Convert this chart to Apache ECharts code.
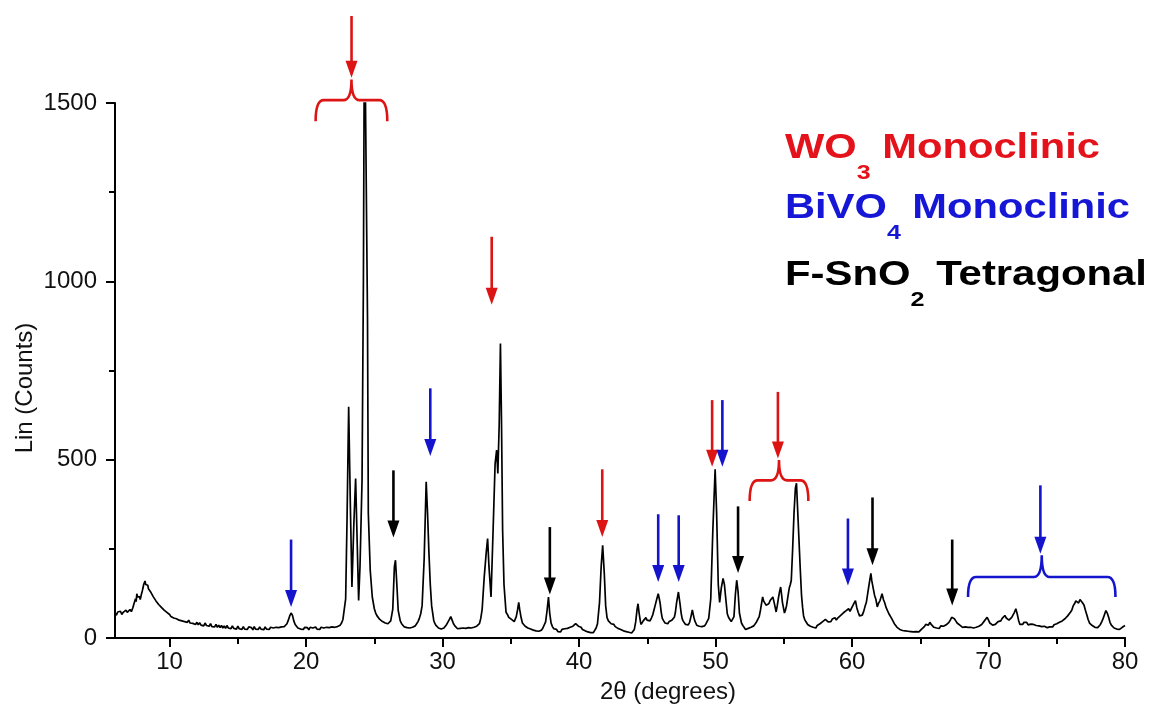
<!DOCTYPE html>
<html><head><meta charset="utf-8">
<script src="https://cdn.jsdelivr.net/npm/echarts@6/dist/echarts.min.js"></script>
<style>html,body{margin:0;padding:0;background:#fff}#chart{width:1155px;height:718px}</style>
</head><body><div id="chart"></div>
<script>
// ---- data ----
const xrdPattern = [
[6.0,70],[6.1,64],[6.2,73],[6.3,68],[6.4,75],[6.5,66],[6.6,72],[6.7,70],[6.8,78],[6.9,72],[7.0,76],[7.1,80],[7.2,74],[7.3,84],[7.4,88],[7.5,110],[7.55,102],[7.6,124],[7.65,115],[7.7,112],[7.75,120],[7.8,116],[7.85,108],[7.9,112],[7.95,125],[8.0,132],[8.05,140],[8.1,150],[8.15,155],[8.2,160],[8.25,150],[8.3,154],[8.35,146],[8.4,148],[8.45,138],[8.5,142],[8.6,130],[8.7,128],[8.8,116],[8.9,112],[9.0,104],[9.1,106],[9.2,94],[9.3,96],[9.4,86],[9.5,88],[9.6,78],[9.7,82],[9.8,72],[9.9,74],
[10.0,66],[10.1,60],[10.2,64],[10.3,56],[10.4,60],[10.5,54],[10.6,58],[10.7,50],[10.8,55],[10.9,48],[11.0,52],[11.1,46],[11.2,50],[11.3,44],[11.4,50],[11.5,42],[11.6,47],[11.7,41],[11.8,46],[11.9,38],[12.0,44],[12.1,37],[12.2,43],[12.3,36],[12.4,41],[12.5,34],[12.6,42],[12.7,35],[12.8,39],[12.9,33],[13.0,40],[13.1,32],[13.2,37],[13.3,31],[13.4,38],[13.5,30],[13.6,36],[13.7,29],[13.8,35],[13.9,28],[14.0,34],[14.1,27],[14.2,35],[14.3,28],[14.4,32],[14.5,26],[14.6,34],[14.7,27],[14.8,31],[14.9,25],[15.0,33],[15.1,26],[15.2,30],[15.3,24],[15.4,32],[15.5,25],[15.6,30],[15.7,24],[15.8,31],[15.9,26],[16.0,29],[16.1,23],[16.2,32],[16.3,25],[16.4,29],[16.5,24],[16.6,31],[16.7,25],[16.8,28],[16.9,23],[17.0,31],[17.1,25],[17.2,29],[17.3,24],[17.4,30],[17.5,25],[17.6,28],[17.7,23],[17.8,30],[17.9,26],[18.0,29],[18.1,24],[18.2,31],[18.3,27],[18.4,32],[18.5,30],[18.6,40],[18.7,50],[18.8,62],[18.9,70],[19.0,64],[19.1,48],[19.2,38],[19.3,33],[19.4,28],[19.5,31],[19.6,25],[19.7,29],[19.8,24],[19.9,30],[20.0,25],[20.1,29],[20.2,23],[20.3,30],[20.4,25],[20.5,28],[20.6,24],[20.7,31],[20.8,25],[20.9,29],[21.0,24],[21.1,30],[21.2,25],[21.3,28],[21.4,24],[21.5,30],[21.6,26],[21.7,29],[21.8,25],[21.9,31],[22.0,26],[22.1,30],[22.2,27],[22.3,32],[22.4,30],[22.5,36],[22.6,42],[22.7,52],
[22.9,110],[23.0,330],[23.12,648],[23.25,360],[23.36,143],[23.5,320],[23.63,447],[23.75,260],[23.85,105],[23.95,200],[24.1,442],[24.2,1000],[24.28,1800],[24.42,1800],[24.5,900],[24.56,350],[24.7,190],[24.85,115],
[25.0,82],[25.1,70],[25.2,62],[25.3,58],[25.4,52],[25.5,54],[25.6,46],[25.7,48],[25.8,42],[25.9,45],[26.0,40],[26.1,44],[26.2,48],[26.35,80],[26.47,200],[26.55,218],[26.65,150],[26.75,77],[26.9,48],[27.0,40],[27.1,36],[27.2,31],[27.3,34],[27.4,29],[27.5,34],[27.6,28],[27.7,33],[27.8,30],[27.9,35],[28.0,34],[28.1,40],[28.2,46],[28.3,55],[28.4,68],[28.5,90],[28.65,220],[28.8,438],[28.9,350],[29.0,240],[29.1,150],[29.2,90],[29.35,50],[29.4,44],[29.5,36],[29.6,33],[29.7,28],[29.8,31],[29.9,25],[30.0,30],[30.1,28],[30.2,33],[30.3,38],[30.4,45],[30.5,52],[30.6,60],[30.7,50],[30.8,40],[30.9,34],[31.0,29],[31.1,26],[31.2,22],[31.3,27],[31.4,22],[31.5,28],[31.6,23],[31.7,27],[31.8,22],[31.9,29],[32.0,24],[32.1,28],[32.2,25],[32.3,30],[32.4,28],[32.5,33],[32.6,35],[32.7,40],[32.8,55],[32.9,80],
[33.05,170],[33.2,240],[33.3,279],[33.4,200],[33.55,115],[33.7,300],[33.85,489],[33.96,527],[34.05,461],[34.15,600],[34.24,826],[34.32,600],[34.4,302],[34.5,150],[34.65,72],[34.75,66],[34.85,58],[34.95,62],[35.05,52],[35.15,48],[35.25,46],[35.4,60],[35.5,80],[35.58,100],[35.65,80],[35.75,58],[35.85,42],[35.95,38],[36.05,33],[36.15,35],[36.25,28],[36.35,31],[36.45,25],[36.55,28],[36.65,22],[36.75,26],[36.85,20],[36.95,24],[37.05,19],[37.15,24],[37.25,22],[37.35,28],[37.45,32],[37.55,45],[37.65,75],[37.76,115],[37.85,70],[37.95,42],[38.05,32],[38.15,26],[38.25,22],[38.35,24],[38.45,18],[38.55,22],[38.65,17],[38.75,24],[38.85,20],[38.95,26],[39.05,21],[39.15,27],[39.25,24],[39.35,30],[39.45,27],[39.55,33],[39.65,31],[39.75,40],[39.85,36],[39.95,33],[40.05,29],[40.15,30],[40.25,24],[40.35,26],[40.45,20],[40.55,22],[40.65,17],[40.75,20],[40.85,15],[40.95,18],[41.05,15],[41.15,20],[41.25,28],[41.35,40],[41.5,100],[41.62,200],[41.73,260],[41.85,180],[41.95,90],[42.05,57],[42.15,48],[42.25,44],[42.35,40],[42.45,36],[42.55,38],[42.65,32],[42.75,34],[42.85,27],[42.95,30],[43.05,24],[43.15,26],[43.25,20],[43.35,23],[43.45,18],[43.55,21],[43.65,16],[43.75,19],[43.85,14],[43.95,18],[44.05,24],[44.15,45],[44.25,80],[44.32,96],[44.4,70],
[44.5,45],[44.55,38],[44.6,40],[44.7,48],[44.75,52],[44.82,48],[44.9,57],[44.98,50],[45.05,45],[45.12,50],[45.2,48],[45.3,56],[45.4,65],[45.5,80],[45.6,95],[45.7,110],[45.8,124],[45.88,110],[45.95,95],[46.02,72],[46.1,55],[46.2,48],[46.3,42],[46.4,45],[46.5,40],[46.6,46],[46.7,43],[46.8,50],[46.9,48],[46.98,58],[47.05,70],[47.15,100],[47.28,129],[47.4,95],[47.48,70],[47.55,55],[47.62,48],[47.7,44],[47.8,38],[47.9,40],[48.0,37],[48.1,44],[48.2,60],[48.3,79],[48.4,60],[48.48,48],[48.55,42],[48.62,36],[48.7,38],[48.8,33],[48.9,36],[49.0,32],[49.1,37],[49.2,34],[49.3,40],[49.4,44],[49.5,55],[49.65,110],[49.8,300],[49.97,473],[50.08,350],[50.2,150],[50.3,100],[50.42,140],[50.55,167],[50.65,150],[50.75,110],[50.86,68],[50.95,58],[51.05,52],[51.15,46],[51.25,48],[51.35,60],[51.45,120],[51.55,162],[51.65,130],[51.75,70],[51.9,42],[52.0,35],[52.1,30],[52.2,24],[52.3,22],[52.4,27],[52.5,24],[52.6,30],[52.7,28],[52.8,34],[52.9,38],[53.0,45],[53.1,49],[53.2,60],[53.3,80],[53.45,115],[53.52,104],[53.6,100],[53.7,92],[53.8,87],[53.9,96],[54.0,105],[54.1,100],[54.2,115],[54.32,95],[54.44,73],[54.52,90],[54.6,110],[54.68,128],[54.77,143],[54.85,118],[54.9,100],[55.05,70],[55.12,78],[55.2,90],[55.3,115],[55.4,140],[55.48,150],[55.55,162],[55.65,250],[55.75,350],[55.85,420],[55.93,434],[56.05,330],[56.2,199],[56.3,120],[56.38,85],
[56.45,62],[56.55,50],[56.65,44],[56.75,38],[56.85,40],[56.95,33],[57.05,36],[57.15,30],[57.25,33],[57.35,28],[57.45,35],[57.55,33],[57.65,40],[57.75,38],[57.85,46],[57.95,44],[58.05,52],[58.15,47],[58.25,45],[58.35,50],[58.45,46],[58.55,53],[58.65,50],[58.75,57],[58.85,50],[58.95,56],[59.05,58],[59.15,63],[59.25,60],[59.35,70],[59.45,68],[59.55,76],[59.65,72],[59.75,82],[59.85,75],[59.95,80],[60.05,90],[60.15,98],[60.25,105],[60.35,85],[60.45,72],[60.55,62],[60.65,66],[60.75,64],[60.85,74],[60.95,88],[61.05,100],[61.15,125],[61.25,150],[61.38,181],[61.45,160],[61.55,140],[61.65,120],[61.75,108],[61.85,87],[61.95,98],[62.05,105],[62.15,118],[62.2,124],[62.3,108],[62.4,98],[62.5,85],[62.6,80],[62.7,68],[62.8,64],[62.9,55],[63.0,50],[63.1,40],[63.2,36],[63.3,30],[63.4,28],[63.5,24],[63.6,26],[63.7,21],[63.8,25],[63.9,20],[64.0,24],[64.1,19],[64.2,23],[64.3,18],[64.4,22],[64.5,17],[64.6,22],[64.7,18],[64.8,21],[64.9,17],[65.0,22],[65.1,25],[65.2,30],[65.3,32],[65.4,38],[65.5,40],[65.6,36],[65.7,44],[65.8,38],[65.9,36],[66.0,30],[66.1,33],[66.2,28],[66.3,30],[66.4,27],[66.5,34],[66.6,30],[66.7,33],[66.8,31],[66.9,37],[67.0,40],[67.1,44],[67.2,50],[67.3,58],[67.4,63],[67.5,54],[67.6,48],[67.7,42],[67.8,38],[67.9,36],[68.0,33],[68.1,30],[68.2,34],[68.3,31],[68.4,27],[68.5,30],[68.6,25],[68.7,30],[68.8,26],[68.9,28],[69.0,25],[69.1,30],[69.2,28],[69.3,33],[69.4,34],[69.5,38],[69.6,42],[69.7,48],[69.8,50],[69.9,58],[70.0,50],[70.1,42],[70.2,38],[70.3,36],[70.4,35],[70.5,38],[70.6,40],[70.7,46],[70.8,50],[70.9,48],[71.0,55],[71.1,58],[71.2,63],[71.3,56],[71.4,55],[71.5,50],[71.6,52],[71.7,58],[71.8,65],[71.9,72],[72.0,82],[72.1,68],[72.2,50],[72.3,38],[72.4,42],[72.5,38],[72.6,44],[72.7,40],[72.8,44],[72.9,37],[73.0,42],[73.1,39],[73.2,43],[73.3,38],[73.4,40],[73.5,35],[73.6,39],[73.7,34],[73.8,37],[73.9,32],[74.0,36],[74.1,33],[74.2,35],[74.3,29],[74.4,34],[74.5,31],[74.6,35],[74.7,31],[74.8,37],[74.9,35],[75.0,40],[75.1,38],[75.2,44],[75.3,42],[75.4,48],[75.5,46],[75.6,54],[75.7,56],[75.8,62],[75.9,64],[76.0,72],[76.1,78],[76.2,90],[76.3,96],[76.4,104],[76.45,100],[76.5,106],[76.6,98],[76.7,108],[76.75,104],[76.8,110],[76.9,98],[77.0,92],[77.05,85],[77.1,78],[77.2,65],[77.3,52],[77.4,42],[77.5,38],[77.6,35],[77.7,33],[77.8,30],[77.9,32],[78.0,29],[78.1,33],[78.2,38],[78.3,46],[78.4,55],[78.5,66],[78.6,77],[78.7,70],[78.8,58],[78.9,44],[79.0,36],[79.1,32],[79.2,28],[79.3,30],[79.4,25],[79.5,28],[79.6,24],[79.7,27],[79.8,30],[79.9,33],[80.0,35]
];
const xTickLabels = [10,20,30,40,50,60,70,80];
const xMinorTicks = [15,25,35,45,55,65,75];
// arrows: [2theta, top of shaft (counts), arrow tip (counts)]
const arrowsWO3   = [[23.33,1744,1571],[33.6,1125,934],[41.7,473,283],[49.75,667,480],[54.57,690,503]];
const arrowsBiVO4 = [[18.9,276,87],[29.1,700,510],[45.8,347,157],[47.3,344,157],[50.5,667,480],[59.7,335,147],[73.8,428,236]];
const arrowsSnO2  = [[26.4,470,282],[37.86,311,122],[51.65,369,182],[61.5,394,204],[67.34,276,91]];
// braces: [left 2theta, right 2theta, end level, bar level, tip level]
const bracesWO3   = [[20.7,25.95,1449,1508,1566],[52.5,56.8,384,442,499]];
const bracesBiVO4 = [[68.5,79.3,115,171,232]];
const legendLines = [
  {parts:[['WO','n'],['3','s'],[' Monoclinic','n']], color:'#e4121a'},
  {parts:[['BiVO','n'],['4','s'],[' Monoclinic','n']], color:'#1616d6'},
  {parts:[['F-SnO','n'],['2','s'],[' Tetragonal','n']], color:'#000000'}
];

const RED='#dc1414', BLUE='#1414cc', BLACK='#000000';
const chart = echarts.init(document.getElementById('chart'));
const FONT='"Liberation Sans", Arial, sans-serif';

function arrowItem(color){
  return function(params, api){
    const top = api.coord([api.value(0), api.value(1)]);
    const tip = api.coord([api.value(0), api.value(2)]);
    const hw = 6, hl = 17;
    return {type:'group', children:[
      {type:'line', shape:{x1:top[0],y1:top[1],x2:tip[0],y2:tip[1]-hl+2}, style:{stroke:color,lineWidth:2.6}},
      {type:'polygon', shape:{points:[[tip[0]-hw,tip[1]-hl],[tip[0]+hw,tip[1]-hl],[tip[0],tip[1]]]}, style:{fill:color}}
    ]};
  };
}
function braceItem(color){
  return function(params, api){
    const xl = api.coord([api.value(0), api.value(3)]);
    const xr = api.coord([api.value(1), api.value(3)]);
    const ye = api.coord([api.value(0), api.value(2)])[1];
    const tipP = api.coord([(api.value(0)+api.value(1))/2, api.value(4)]);
    const yb = xl[1], xc = tipP[0], yt = tipP[1], r = 8;
    const d = `M${xl[0]},${ye} Q${xl[0]},${yb} ${xl[0]+r},${yb} L${xc-r},${yb} Q${xc},${yb} ${xc},${yt} Q${xc},${yb} ${xc+r},${yb} L${xr[0]-r},${yb} Q${xr[0]},${yb} ${xr[0]},${ye}`;
    return {type:'path', shape:{pathData:d}, style:{fill:null, stroke:color, lineWidth:2.6}};
  };
}
function annot(data, fn, color){
  return {type:'custom', data:data, renderItem:fn(color), clip:false, silent:true, z:5, animation:false};
}

// legend text graphics
const cv = document.createElement('canvas').getContext('2d');
const NF = 35, SF = 21;
const legendTargets = [[785,148,315],[785,208,345],[785,275,362]];
const legendGraphics = legendLines.map((ln, i) => {
  let x = 0; const kids = [];
  ln.parts.forEach(([t, k]) => {
    const fs = k==='n'?NF:SF;
    cv.font = `bold ${fs}px ${FONT}`;
    kids.push({type:'text', x:x, y:k==='n'?0:25, style:{text:t, font:`bold ${fs}px ${FONT}`, fill:ln.color, verticalAlign:'middle', align:'left'}});
    x += cv.measureText(t).width;
  });
  const [lx, ly, tw] = legendTargets[i];
  return {type:'group', x:lx, y:ly, scaleX: tw/x, children:kids};
});

chart.setOption({
  animation:false,
  backgroundColor:'#fff',
  grid:{left:115, right:30, top:103, bottom:80},
  xAxis:[{
    type:'value', min:6, max:80,
    axisLine:{lineStyle:{color:'#000', width:2}},
    axisTick:{customValues:xTickLabels, length:9, lineStyle:{color:'#000', width:2}},
    axisLabel:{customValues:xTickLabels, fontFamily:FONT, fontSize:24, color:'#111', margin:12},
    splitLine:{show:false}
  },{
    type:'value', min:6, max:80, position:'bottom', gridIndex:0,
    axisLine:{show:true, lineStyle:{color:'#000', width:2}},
    axisTick:{show:true, customValues:xMinorTicks, length:6, lineStyle:{color:'#000', width:2}},
    axisLabel:{show:false}, splitLine:{show:false}
  }],
  yAxis:{
    type:'value', min:0, max:1500, interval:500,
    axisLine:{show:true, lineStyle:{color:'#000', width:2}},
    axisTick:{show:true, length:9, lineStyle:{color:'#000', width:2}},
    minorTick:{show:true, splitNumber:2, length:6, lineStyle:{color:'#000', width:2}},
    axisLabel:{fontFamily:FONT, fontSize:24, color:'#111', margin:18, formatter:v => String(v)},
    splitLine:{show:false}, minorSplitLine:{show:false}
  },
  graphic:[
    {type:'text', x:25, y:388, rotation:Math.PI/2, style:{text:'Lin (Counts)', font:`24px ${FONT}`, fill:'#111', align:'center', verticalAlign:'middle'}},
    {type:'text', x:668, y:692, style:{text:'2θ (degrees)', font:`24px ${FONT}`, fill:'#111', align:'center', verticalAlign:'middle'}},
    ...legendGraphics
  ],
  series:[
    {type:'line', data:xrdPattern, showSymbol:false, symbol:'none', lineStyle:{color:'#000', width:1.7}, clip:true, z:3},
    annot(arrowsWO3, arrowItem, RED),
    annot(arrowsBiVO4, arrowItem, BLUE),
    annot(arrowsSnO2, arrowItem, BLACK),
    annot(bracesWO3, braceItem, RED),
    annot(bracesBiVO4, braceItem, BLUE)
  ]
});
</script></body></html>
